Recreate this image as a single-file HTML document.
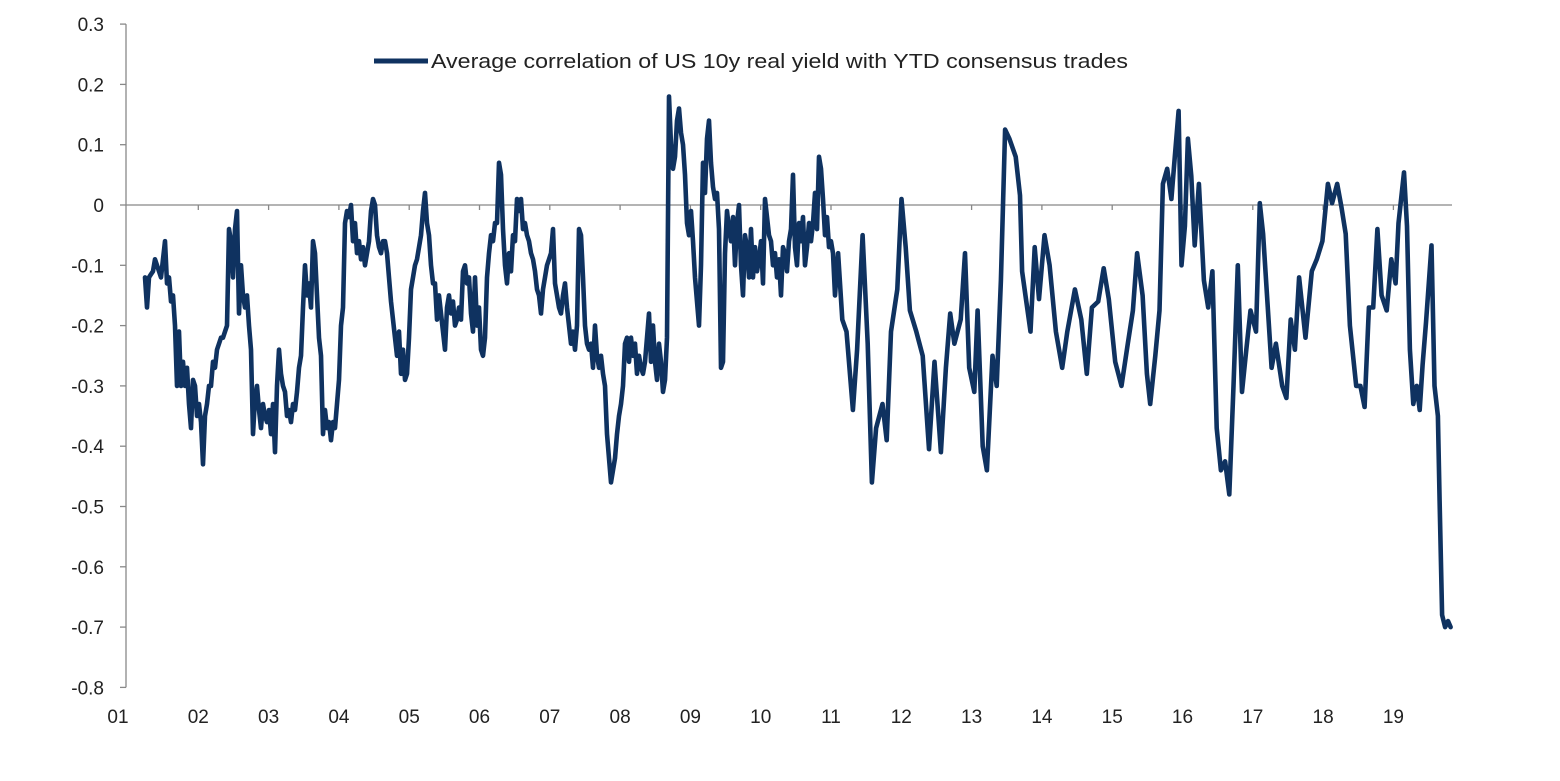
<!DOCTYPE html>
<html><head><meta charset="utf-8"><style>
html,body{margin:0;padding:0;background:#fff;}
svg{display:block;font-family:"Liberation Sans",sans-serif;}
</style></head><body>
<svg id="chart" width="1560" height="781" viewBox="0 0 1560 781" xmlns="http://www.w3.org/2000/svg">
<g id="yaxis"></g>
<g id="xaxis"></g>
<g id="series"></g>
<g>
<line x1="374" y1="61" x2="428" y2="61" stroke="#0f3260" stroke-width="5"/>
<text x="431" y="68" font-size="20.5" fill="#222" textLength="697" lengthAdjust="spacingAndGlyphs">Average correlation of US 10y real yield with YTD consensus trades</text>
</g>
</svg>
<script>
// y-axis ticks
const yTicks = [0.3,0.2,0.1,0,-0.1,-0.2,-0.3,-0.4,-0.5,-0.6,-0.7,-0.8];
const yTickLabels = ["0.3","0.2","0.1","0","-0.1","-0.2","-0.3","-0.4","-0.5","-0.6","-0.7","-0.8"];
// x-axis years
const xYears = [2001,2002,2003,2004,2005,2006,2007,2008,2009,2010,2011,2012,2013,2014,2015,2016,2017,2018,2019];
const xYearLabels = ["01","02","03","04","05","06","07","08","09","10","11","12","13","14","15","16","17","18","19"];
// first segment: regular sampling
const seriesStart = 2001.242;
const seriesStep = 0.02845;
const regularValues = [
-0.12,-0.17,-0.12,-0.115,-0.11,-0.09,-0.10,-0.11,-0.12,-0.09,-0.06,-0.13,-0.12,-0.16,-0.15,-0.20,-0.30,-0.21,-0.30,-0.26,
-0.30,-0.27,-0.33,-0.37,-0.29,-0.30,-0.35,-0.33,-0.36,-0.43,-0.35,-0.33,-0.30,-0.30,-0.26,-0.27,-0.24,-0.23,-0.22,-0.22,
-0.21,-0.20,-0.04,-0.06,-0.12,-0.04,-0.01,-0.18,-0.10,-0.15,-0.17,-0.15,-0.20,-0.24,-0.38,-0.32,-0.30,-0.34,-0.37,-0.33,
-0.35,-0.36,-0.34,-0.38,-0.33,-0.41,-0.30,-0.24,-0.28,-0.30,-0.31,-0.35,-0.34,-0.36,-0.33,-0.34,-0.31,-0.27,-0.25,-0.17,
-0.10,-0.15,-0.13,-0.17,-0.06,-0.08,-0.15,-0.22,-0.25,-0.38,-0.34,-0.37,-0.36,-0.39,-0.36,-0.37,-0.33,-0.29,-0.20,-0.17,
-0.03,-0.01,-0.02,0.00,-0.06,-0.03,-0.08,-0.06,-0.09,-0.07,-0.10,-0.08,-0.06,-0.01,0.01,0.00,-0.05,-0.07,-0.08,-0.06,
-0.06,-0.08,-0.12,-0.16,-0.19,-0.22,-0.25,-0.21,-0.28,-0.24,-0.29,-0.28,-0.22,-0.14,-0.12,-0.10,-0.09,-0.07,-0.05,-0.01,
0.02,-0.03,-0.05,-0.10,-0.13,-0.13,-0.19,-0.15,-0.18,-0.21,-0.24,-0.17,-0.15,-0.18,-0.16,-0.20,-0.19,-0.17,-0.19,-0.11,
-0.10,-0.13,-0.12,-0.18,-0.21,-0.12,-0.20,-0.17,-0.24,-0.25,-0.22,-0.12,-0.08,-0.05,-0.06,-0.03,-0.03,0.07,0.05,-0.04,
-0.10,-0.13,-0.08,-0.11,-0.05,-0.06,0.01,-0.01,0.01,-0.04,-0.03,-0.05,-0.06,-0.08,-0.09,-0.11,-0.14,-0.15,-0.18,-0.14,
-0.12,-0.10,-0.09,-0.08,-0.04,-0.13,-0.15,-0.17,-0.18,-0.15,-0.13,-0.17,-0.20,-0.23,-0.21,-0.24,-0.20,-0.04,-0.05,-0.12,
-0.20,-0.23,-0.24,-0.23,-0.27,-0.20,-0.25,-0.27,-0.25,-0.28,-0.30,-0.38,-0.42,-0.46,-0.44,-0.42,-0.38,-0.35,-0.33,-0.30,
-0.23,-0.22,-0.26,-0.22,-0.25,-0.23,-0.28,-0.25,-0.27,-0.28,-0.26,-0.22,-0.18,-0.26,-0.20,-0.26,-0.29,-0.23,-0.26,-0.31,
-0.29,-0.22,0.18,0.10,0.06,0.08,0.14,0.16,0.12,0.10,0.05,-0.03,-0.05,-0.01,-0.06,-0.12,-0.16,-0.20,-0.10,0.07,
0.02,0.11,0.14,0.07,0.03,0.01,0.02,-0.04,-0.27,-0.26,-0.08,-0.01,-0.04,-0.06,-0.02,-0.10,-0.03,0.00,-0.10,-0.15,
-0.05,-0.07,-0.12,-0.04,-0.12,-0.07,-0.11,-0.09,-0.06,-0.13,0.01,-0.02,-0.05,-0.06,-0.10,-0.08,-0.12,-0.09,-0.15,-0.07,
-0.08,-0.11,-0.06,-0.04,0.05,-0.07,-0.10,-0.03,-0.06,-0.02,-0.10,-0.07,-0.03,-0.06,-0.03,0.02,-0.04,0.08,0.06,0.01,
-0.05,-0.02,-0.07,-0.06,-0.08,-0.15
];
// second segment: explicit dates
const laterDates = [2011.101,2011.161,2011.221,2011.311,2011.371,2011.450,2011.522,2011.582,2011.642,2011.732,2011.792,2011.853,2011.943,2012.003,2012.063,2012.123,2012.214,2012.304,2012.394,2012.472,2012.563,2012.635,2012.695,2012.755,2012.845,2012.906,2012.966,2013.038,2013.086,2013.158,2013.218,2013.297,2013.357,2013.417,2013.477,2013.537,2013.628,2013.688,2013.718,2013.778,2013.838,2013.898,2013.959,2014.037,2014.109,2014.199,2014.289,2014.362,2014.470,2014.560,2014.638,2014.711,2014.801,2014.879,2014.951,2015.042,2015.132,2015.222,2015.294,2015.354,2015.433,2015.493,2015.541,2015.613,2015.673,2015.721,2015.782,2015.842,2015.890,2015.944,2015.986,2016.034,2016.077,2016.125,2016.173,2016.233,2016.305,2016.365,2016.425,2016.486,2016.546,2016.606,2016.666,2016.726,2016.786,2016.847,2016.907,2016.967,2017.045,2017.099,2017.147,2017.208,2017.268,2017.328,2017.418,2017.478,2017.539,2017.599,2017.659,2017.749,2017.839,2017.911,2017.990,2018.068,2018.128,2018.200,2018.260,2018.321,2018.381,2018.471,2018.531,2018.591,2018.652,2018.712,2018.772,2018.832,2018.904,2018.970,2019.031,2019.073,2019.151,2019.193,2019.235,2019.283,2019.332,2019.374,2019.416,2019.464,2019.542,2019.584,2019.633,2019.657,2019.693,2019.735,2019.777,2019.813];
const laterValues = [-0.08,-0.19,-0.21,-0.34,-0.24,-0.05,-0.23,-0.46,-0.37,-0.33,-0.39,-0.21,-0.14,0.01,-0.07,-0.175,-0.21,-0.25,-0.405,-0.26,-0.41,-0.27,-0.18,-0.23,-0.19,-0.08,-0.27,-0.31,-0.175,-0.40,-0.44,-0.25,-0.30,-0.125,0.125,0.11,0.08,0.016,-0.11,-0.16,-0.21,-0.07,-0.156,-0.05,-0.10,-0.21,-0.27,-0.21,-0.14,-0.19,-0.28,-0.17,-0.16,-0.105,-0.156,-0.26,-0.30,-0.23,-0.175,-0.08,-0.15,-0.28,-0.33,-0.25,-0.175,0.035,0.06,0.01,0.08,0.156,-0.10,-0.035,0.11,0.048,-0.067,0.035,-0.125,-0.17,-0.11,-0.37,-0.44,-0.425,-0.48,-0.30,-0.10,-0.31,-0.24,-0.175,-0.21,0.003,-0.048,-0.16,-0.27,-0.23,-0.30,-0.32,-0.19,-0.24,-0.12,-0.22,-0.11,-0.09,-0.06,0.035,0.003,0.035,-0.003,-0.048,-0.20,-0.30,-0.30,-0.335,-0.17,-0.17,-0.04,-0.15,-0.175,-0.09,-0.13,-0.03,0.054,-0.035,-0.24,-0.33,-0.30,-0.34,-0.265,-0.195,-0.067,-0.30,-0.35,-0.49,-0.68,-0.70,-0.69,-0.70];

const NS='http://www.w3.org/2000/svg';
const X0=128, YEARPX=70.3, Y0=205, UNIT=603;
function xScale(t){return X0+(t-2001)*YEARPX;}
function yScale(v){return Y0-v*UNIT;}
function mk(tag,attrs,parent){const e=document.createElementNS(NS,tag);for(const k in attrs)e.setAttribute(k,attrs[k]);parent.appendChild(e);return e;}

const yg=document.getElementById('yaxis');
const ax=mk('line',{x1:126,y1:yScale(0.3),x2:126,y2:yScale(-0.8),stroke:'#888','stroke-width':1.3},yg);


yTicks.forEach((v,i)=>{
  const tk=mk('line',{x1:120,y1:yScale(v),x2:126,y2:yScale(v),stroke:'#888','stroke-width':1.3},yg);
  
  
  const tx=mk('text',{x:104,y:yScale(v)+7,'text-anchor':'end','font-size':19,fill:'#222'},yg);
  tx.textContent=yTickLabels[i];
  
  
});

const xg=document.getElementById('xaxis');
const zl=mk('line',{x1:126,y1:yScale(0),x2:1452,y2:yScale(0),stroke:'#888','stroke-width':1.3},xg);


xYears.forEach((yr,i)=>{
  const x=xScale(yr);
  if(i>0){
    const tk=mk('line',{x1:x,y1:yScale(0),x2:x,y2:yScale(0)+5,stroke:'#888','stroke-width':1.3},xg);
    
    
  }
  const tx=mk('text',{x:i===0?118:x,y:723,'text-anchor':'middle','font-size':19,fill:'#222'},xg);
  tx.textContent=xYearLabels[i];
  
  
});

const pts=[];
regularValues.forEach((v,i)=>pts.push([xScale(seriesStart+i*seriesStep),yScale(v)]));
laterDates.forEach((t,i)=>pts.push([xScale(t),yScale(laterValues[i])]));
const sg=document.getElementById('series');
const path=mk('path',{d:'M'+pts.map(p=>p[0].toFixed(1)+','+p[1].toFixed(1)).join('L'),fill:'none',stroke:'#0f3260','stroke-width':4.6,'stroke-linejoin':'round','stroke-linecap':'round'},sg);


</script>
</body></html>
